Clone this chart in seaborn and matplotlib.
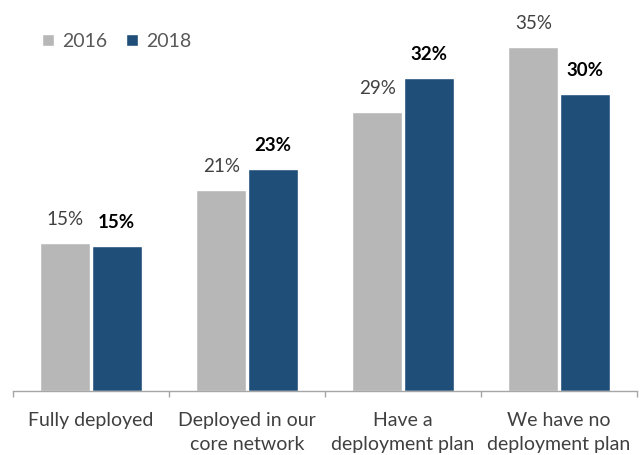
import matplotlib
matplotlib.use("Agg")
import matplotlib.pyplot as plt
import pandas as pd
import seaborn as sns

# Survey responses, share of respondents (%)
categories = [
    "Fully deployed",
    "Deployed in our\ncore network",
    "Have a\ndeployment plan",
    "We have no\ndeployment plan",
]
years = ["2016", "2018"]
values_2016 = [15.1, 20.6, 28.6, 35.2]
values_2018 = [14.8, 22.7, 32.0, 30.4]

GRAY = "#B7B7B7"
BLUE = "#1F4E79"
AXIS = "#A6A6A6"
TEXT = "#404040"

records = []
for year, vals in zip(years, [values_2016, values_2018]):
    for cat, v in zip(categories, vals):
        records.append({"category": cat, "year": year, "value": v})
df = pd.DataFrame(records)

sns.set_theme(style="white")
plt.rcParams["font.family"] = ["Lato", "DejaVu Sans"]

W, H = 643, 455
fig = plt.figure(figsize=(W / 100, H / 100), dpi=100)
ax = fig.add_axes([13 / W, 64 / H, 624 / W, 381 / H])

sns.barplot(
    data=df, x="category", y="value", hue="year",
    order=categories, hue_order=years,
    palette=[GRAY, BLUE], saturation=1,
    width=0.66, gap=0.02, ax=ax,
)

ax.set_xlim(-0.5, 3.5)
ax.set_ylim(0, 39)
ax.set_xlabel("")
ax.set_ylabel("")
ax.set_yticks([])

for side in ["top", "right", "left"]:
    ax.spines[side].set_visible(False)
ax.spines["bottom"].set_color(AXIS)
ax.spines["bottom"].set_linewidth(1.0)

# Separator ticks between categories
ax.set_xticks([-0.5, 0.5, 1.5, 2.5, 3.5], minor=True)
ax.tick_params(axis="x", which="minor", bottom=True, length=4.5,
               width=1.0, color=AXIS, direction="out")
ax.tick_params(axis="x", which="major", length=0, pad=15,
               labelsize=14, labelcolor=TEXT)
for lbl in ax.get_xticklabels():
    lbl.set_linespacing(1.5)

# Value labels above each bar
for year, container in zip(years, ax.containers):
    bold = year == "2018"
    for bar in container:
        h = bar.get_height()
        ax.annotate(
            f"{h:.0f}%",
            xy=(bar.get_x() + bar.get_width() / 2, h),
            xytext=(0, 13), textcoords="offset points",
            ha="center", va="baseline",
            fontsize=13.5,
            fontweight="bold" if bold else "normal",
            color="#000000" if bold else TEXT,
        )

handles, labels = ax.get_legend_handles_labels()
ax.legend(
    handles, labels, ncol=2, frameon=False,
    loc="upper left", bbox_to_anchor=(42 / W, 1 - 33 / H),
    bbox_transform=fig.transFigure,
    fontsize=14, labelcolor="#595959",
    handlelength=0.62, handleheight=0.62,
    handletextpad=0.4, columnspacing=1.0,
    borderpad=0, borderaxespad=0,
)

fig.savefig("out.png", dpi=100)
